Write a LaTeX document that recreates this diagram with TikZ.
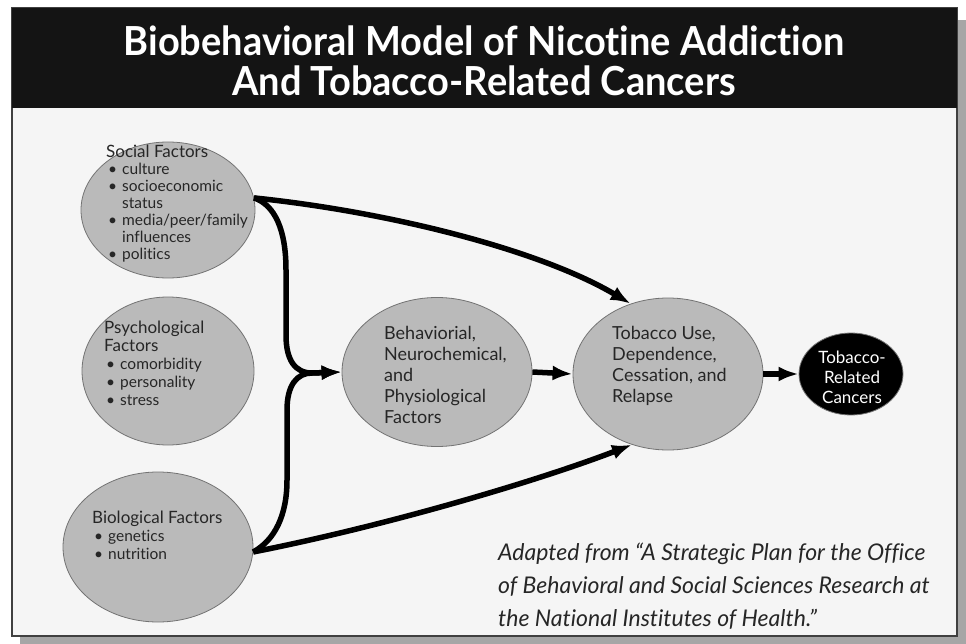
\documentclass[tikz,border=0pt]{standalone}
\usepackage{fontspec}
\setmainfont{Lato}[Ligatures=NoCommon]
\newfontfamily\titlefont{Lato}[FakeStretch=0.95, Ligatures=NoCommon]
\usetikzlibrary{arrows.meta, shapes.geometric}
\newcommand{\bitem}{\makebox[16pt][l]{\hspace{2pt}\textbullet}}
\newcommand{\bcont}{\hspace*{16pt}}

\begin{document}
\begin{tikzpicture}[x=1pt, y=-1pt,
    factor/.style={ellipse, draw=black!55, fill=black!27, line width=0.8pt, inner sep=0pt},
    words/.style={anchor=north west, align=left, inner sep=0pt, text=black!85},
    link/.style={line width=5.5pt, black, -{Latex[length=20pt,width=15pt]}}]
  \useasboundingbox (0,0) rectangle (966,644);
  % frame and title band
  \fill[white] (0,0) rectangle (966,644);
  \fill[black!35] (20,20) rectangle (966,644);
  \draw[fill=black!4, line width=1.2pt, draw=black!75] (12,8) rectangle (957,636);
  \fill[black!92] (12,8) rectangle (957,108);
  \node[text=white, align=center, font=\titlefont\bfseries\fontsize{40}{40}\selectfont] (title) at (484,61)
    {Biobehavioral Model of Nicotine Addiction\\And Tobacco-Related Cancers};

  % factors
  \node[factor, minimum width=174, minimum height=136] (soc) at (168,210) {};
  \node[factor, minimum width=172, minimum height=148] (psy) at (168,371) {};
  \node[factor, minimum width=190, minimum height=150] (bio) at (158,547) {};
  \node[factor, minimum width=190, minimum height=149] (beh) at (437,372) {};
  \node[factor, minimum width=190, minimum height=152] (tob) at (668,374) {};
  \node[factor, fill=black, minimum width=104, minimum height=82] (canc) at (851,374) {};

  % texts
  \node[words, font=\fontsize{15.5}{17}\selectfont] (soc-txt) at (106,145)
    {{\fontsize{17}{17}\selectfont Social Factors}\\ \bitem culture\\ \bitem socioeconomic\\ \bcont status\\
     \bitem media/peer/family\\ \bcont influences\\ \bitem politics};
  \node[words, font=\fontsize{15.5}{18}\selectfont] (psy-txt) at (104,321)
    {{\fontsize{17}{18}\selectfont Psychological}\\ {\fontsize{17}{18}\selectfont Factors}\\
     \bitem comorbidity\\ \bitem personality\\ \bitem stress};
  \node[words, font=\fontsize{15.5}{18}\selectfont] (bio-txt) at (92,511)
    {{\fontsize{17}{18}\selectfont Biological Factors}\\ \bitem genetics\\ \bitem nutrition};
  \node[words, font=\fontsize{18}{21}\selectfont] (beh-txt) at (384,326)
    {Behaviorial,\\ Neurochemical,\\ and\\ Physiological\\ Factors};
  \node[words, font=\fontsize{18}{21}\selectfont] (tob-txt) at (612,326)
    {Tobacco Use,\\ Dependence,\\ Cessation, and\\ Relapse};
  \node[align=center, text=white, inner sep=0pt, font=\fontsize{17}{20}\selectfont] (canc-txt) at (852,377)
    {Tobacco-\\ Related\\ Cancers};

  % source
  \node[words, font=\itshape\fontsize{23}{33}\selectfont] (src) at (498,543)
    {Adapted from “A Strategic Plan for the Office\\ of Behavioral and Social Sciences Research at\\
     the National Institutes of Health.”};

  % arrows
  \coordinate (mid) at (312,373);
  \draw[link] (soc.8) .. controls (275,205) and (286,230) .. (286,270) -- (286,335)
    .. controls (286,360) and (295,373) .. (mid) -- (beh.west);
  \draw[link] (bio.-3) .. controls (275,540) and (287,515) .. (287,480) -- (287,410)
    .. controls (287,385) and (297,373) .. (mid) -- (beh.west);
  \draw[link] (soc.8) .. controls (390,212) and (540,250) .. (tob.118);
  \draw[link] (bio.-3) .. controls (390,525) and (540,480) .. (tob.243);
  \draw[link] (beh.east) -- (tob.west);
  \draw[link] (tob.east) -- (canc.west);
\end{tikzpicture}
\end{document}
